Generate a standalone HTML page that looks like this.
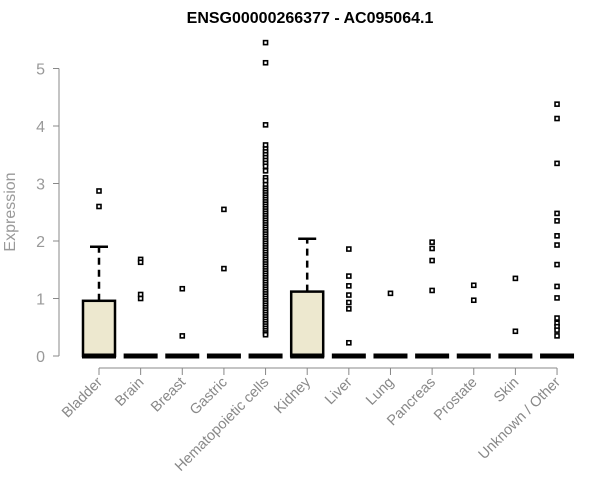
<!DOCTYPE html>
<html><head><meta charset="utf-8"><style>
body{margin:0;background:#fff}
svg{display:block;font-family:"Liberation Sans",Arial,sans-serif}
</style></head><body>
<svg id="chart" width="600" height="500">
<text x="310" y="23" text-anchor="middle" font-weight="bold" font-size="16">ENSG00000266377 - AC095064.1</text>
<text transform="translate(15,212) rotate(-90)" text-anchor="middle" font-size="16" fill="#999">Expression</text>
<g id="axes"></g><g id="marks"></g>
</svg>
<script>
const categories=["Bladder","Brain","Breast","Gastric","Hematopoietic cells","Kidney","Liver","Lung","Pancreas","Prostate","Skin","Unknown / Other"];
const q3Values=[0.96,0,0,0,0,1.12,0,0,0,0,0,0];
const whiskerValues=[1.9,0,0,0,0,2.04,0,0,0,0,0,0];
const outliers=[
 [2.87,2.6],
 [1.68,1.63,1.07,1.0],
 [1.17,0.35],
 [2.55,1.52],
 [5.45,5.1,4.02,3.67,3.6,3.55,3.5,3.45,3.4,3.35,3.3,3.22,3.1,3.05,2.98,2.92,2.88,2.84,2.8,2.76,2.72,2.68,2.64,2.6,2.56,2.52,2.48,2.44,2.4,2.36,2.32,2.28,2.24,2.2,2.16,2.12,2.08,2.04,2.0,1.96,1.92,1.88,1.84,1.8,1.76,1.72,1.68,1.64,1.6,1.56,1.52,1.48,1.44,1.4,1.36,1.32,1.28,1.24,1.2,1.16,1.12,1.08,1.04,1.0,0.96,0.92,0.88,0.84,0.8,0.76,0.72,0.68,0.64,0.6,0.56,0.52,0.48,0.44,0.4,0.37],
 [],
 [1.86,1.39,1.22,1.06,0.93,0.82,0.23],
 [1.09],
 [1.98,1.87,1.66,1.14],
 [1.23,0.97],
 [1.35,0.43],
 [4.38,4.13,3.35,2.48,2.35,2.09,1.93,1.59,1.21,1.01,0.66,0.57,0.51,0.45,0.35]
];
const yTicks=[0,1,2,3,4,5];
const NS="http://www.w3.org/2000/svg";
const y=v=>356-v*57.5;
const x=i=>99+i*41.64;
const axes=document.getElementById('axes'),marks=document.getElementById('marks');
function mk(tag,attrs,parent){const e=document.createElementNS(NS,tag);for(const k in attrs)e.setAttribute(k,attrs[k]);parent.appendChild(e);return e;}
let l=mk('line',{x1:59,x2:59,y1:y(0),y2:y(5),stroke:'#888'},axes);


yTicks.forEach(t=>{
 const tk=mk('line',{x1:53,x2:59,y1:y(t),y2:y(t),stroke:'#888'},axes);
 
 
 const tx=mk('text',{x:45,y:y(t)+6,'text-anchor':'end','font-size':16,fill:'#999'},axes);
 tx.textContent=t;
 
 
});
const xl=mk('line',{x1:x(0),x2:x(11),y1:368,y2:368,stroke:'#888'},axes);


categories.forEach((c,i)=>{
 const cx=x(i);
 const tk=mk('line',{x1:cx,x2:cx,y1:368,y2:375,stroke:'#888'},axes);
 
 
 const tx=mk('text',{transform:`translate(${cx+4},${383}) rotate(-45)`,'text-anchor':'end','font-size':14.5,fill:'#888'},axes);
 tx.textContent=c;
 
 
 const g=mk('g',{},marks);
 
 
 if(whiskerValues[i]>q3Values[i]){
  mk('line',{x1:cx,x2:cx,y1:y(q3Values[i]),y2:y(whiskerValues[i]),stroke:'#000','stroke-width':2.5,'stroke-dasharray':'7,5'},g);
  mk('line',{x1:cx-9,x2:cx+9,y1:y(whiskerValues[i]),y2:y(whiskerValues[i]),stroke:'#000','stroke-width':2.5},g);
 }
 if(q3Values[i]>0){
  mk('rect',{x:cx-16,y:y(q3Values[i]),width:32,height:y(0)-y(q3Values[i]),fill:'#ede8cf',stroke:'#000','stroke-width':2.5},g);
 }
 mk('line',{x1:cx-17,x2:cx+17,y1:y(0),y2:y(0),stroke:'#000','stroke-width':5},g);
 outliers[i].forEach(v=>{
  const p=mk('rect',{x:cx-2,y:y(v)-2,width:4,height:4,fill:'#fff',stroke:'#000','stroke-width':1.6},g);
  
  
 });
});
</script>
</body></html>
